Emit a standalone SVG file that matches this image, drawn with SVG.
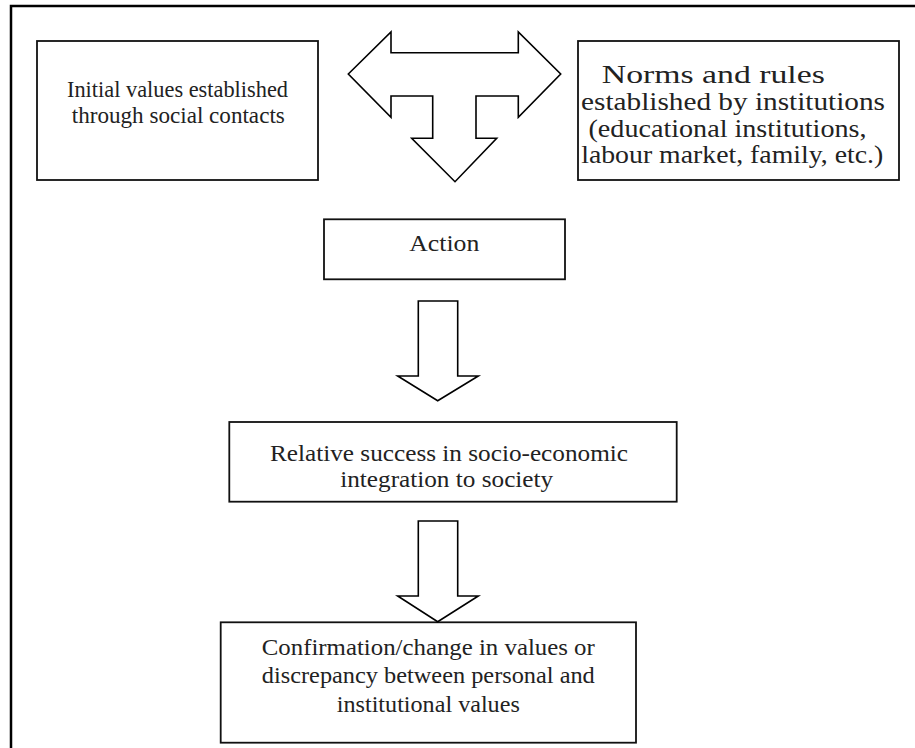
<svg xmlns="http://www.w3.org/2000/svg" width="915" height="748" viewBox="0 0 915 748">
<style>
.box{fill:#fff;stroke:#111;stroke-width:1.8}
.arr{fill:#fff;stroke:#000;stroke-width:1.6;stroke-linejoin:miter}
.frame{fill:none;stroke:#000;stroke-width:2.5}
text{font-family:"Liberation Serif","Times New Roman",serif;font-size:23px;fill:#222;text-anchor:middle}
.big{font-size:25px}
</style>
<rect width="915" height="748" fill="#fff"/>
<g id="frame"><path class="frame" d="M11,748 V6 H915"/></g>
<g id="initial-values">
<rect class="box" x="37" y="41" width="281" height="139"/>
<text x="177.5" y="97" textLength="221" lengthAdjust="spacingAndGlyphs">Initial values established</text>
<text x="178.3" y="123" textLength="213" lengthAdjust="spacingAndGlyphs">through social contacts</text>
</g>
<g id="norms-rules">
<rect class="box" x="578" y="41" width="321" height="139"/>
<text class="big" x="713.3" y="83" textLength="223" lengthAdjust="spacingAndGlyphs">Norms and rules</text>
<text class="big" x="733" y="110" textLength="304" lengthAdjust="spacingAndGlyphs">established by institutions</text>
<text class="big" x="727.5" y="137" textLength="278" lengthAdjust="spacingAndGlyphs">(educational institutions,</text>
<text class="big" x="732.2" y="163" textLength="302" lengthAdjust="spacingAndGlyphs">labour market, family, etc.)</text>
</g>
<g id="action">
<rect class="box" x="324" y="219.3" width="241" height="60"/>
<text x="444.3" y="251" textLength="70" lengthAdjust="spacingAndGlyphs">Action</text>
</g>
<g id="relative-success">
<rect class="box" x="229.3" y="422" width="447.4" height="79.7"/>
<text x="449" y="460.5" textLength="358" lengthAdjust="spacingAndGlyphs">Relative success in socio-economic</text>
<text x="446.7" y="487" textLength="213" lengthAdjust="spacingAndGlyphs">integration to society</text>
</g>
<g id="confirmation">
<rect class="box" x="220.7" y="622.3" width="415.3" height="120.4"/>
<text x="428.3" y="655" textLength="333" lengthAdjust="spacingAndGlyphs">Confirmation/change in values or</text>
<text x="428.3" y="683" textLength="333" lengthAdjust="spacingAndGlyphs">discrepancy between personal and</text>
<text x="428.3" y="711.5" textLength="183" lengthAdjust="spacingAndGlyphs">institutional values</text>
</g>
<g id="connectors">
<polygon class="arr" points="348.3,74 391,32 391,52.7 518.3,52.7 518.3,32 560.7,74 518.3,117.3 518.3,96 476,96 476,138.3 496.7,138.3 455,181.7 411.7,138.3 432.7,138.3 432.7,96 391,96 391,117.3"/>
<polygon class="arr" points="418.3,301 457.7,301 457.7,376 478.3,376 437.7,400.7 397.7,376 418.3,376"/>
<polygon class="arr" points="418.3,521 457.7,521 457.7,596 478.3,596 437.7,621.7 397.7,596 418.3,596"/>
</g>
</svg>
